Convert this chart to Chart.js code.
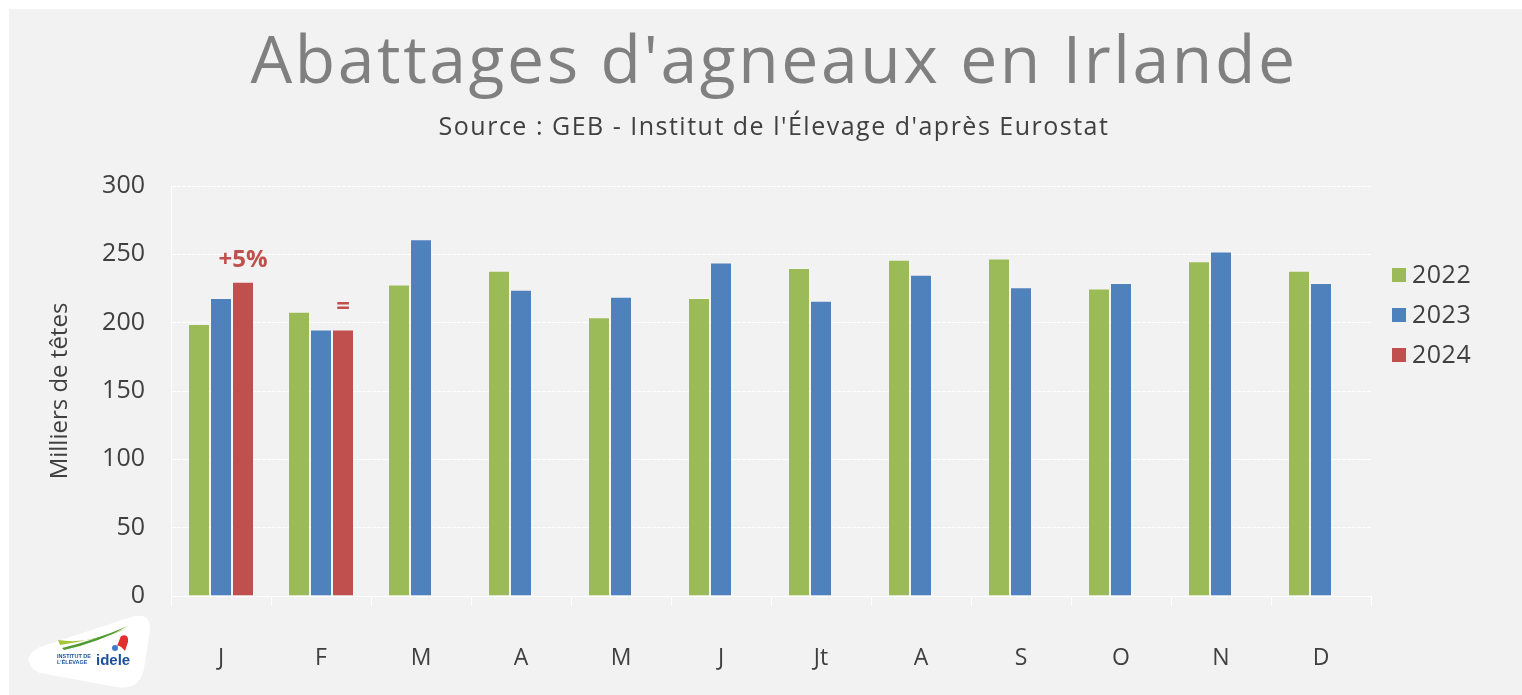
<!DOCTYPE html>
<html>
<head>
<meta charset="utf-8">
<script src="https://cdn.jsdelivr.net/npm/chart.js@4.4.1/dist/chart.umd.min.js"></script>
<style>
  html, body { margin: 0; padding: 0; background: #ffffff; width: 1522px; height: 695px; overflow: hidden; }
  #panel { position: absolute; left: 9px; top: 9px; width: 1513px; height: 686px; background: #f2f2f2; }
  #c { position: absolute; left: 0; top: 0; }
  #logo { position: absolute; left: 18px; top: 600px; }
</style>
</head>
<body>
<div id="panel">
  <canvas id="c" width="1513" height="686"></canvas>
  <svg id="logo" width="140" height="86" viewBox="27 609 140 86" xmlns="http://www.w3.org/2000/svg">
    <path d="M30 664 Q24 655 40 647 L128 618 Q151 610 150 630 L144 668 Q140 691 116 687 L40 673 Q32 670 30 664 Z" fill="#ffffff"/>
    <path d="M58 640 Q90 645 128 628 Q95 640 60 645 Z" fill="#a6c63a"/>
    <path d="M62 648 Q95 640 128 626 Q100 642 64 650 Z" fill="#4f9a32"/>
    <path d="M121 636 Q129 633 128 642 L125 651 Q120 645 117 646 Z" fill="#e2302f"/>
    <circle cx="115" cy="648" r="3" fill="#3d7cc9"/>
    <text x="57" y="658" font-family="Liberation Sans" font-weight="bold" font-size="5.5" fill="#1d4f9c">INSTITUT DE</text>
    <text x="57" y="664" font-family="Liberation Sans" font-weight="bold" font-size="5.5" fill="#1d4f9c">L'ÉLEVAGE</text>
    <text x="96" y="665" font-family="Liberation Sans" font-weight="bold" font-size="15" fill="#1d4f9c">idele</text>
  </svg>
</div>
<script>
const categories = ['J', 'F', 'M', 'A', 'M', 'J', 'Jt', 'A', 'S', 'O', 'N', 'D'];
const seriesLabels = ['2022', '2023', '2024'];
const values2022 = [199, 208, 228, 238, 204, 218, 240, 246, 247, 225, 245, 238];
const values2023 = [218, 195, 261, 224, 219, 244, 216, 235, 226, 229, 252, 229];
const values2024 = [230, 195, null, null, null, null, null, null, null, null, null, null];
const annotations2024 = ['+5%', '=', null, null, null, null, null, null, null, null, null, null];
const yTicks = [0, 50, 100, 150, 200, 250, 300];
const titleText = "Abattages d'agneaux en Irlande";
const subtitleText = "Source : GEB - Institut de l'Élevage d'après Eurostat";
const yAxisTitle = 'Milliers de têtes';

const FONT = "'Open Sans', sans-serif";
const colors = ['#9bbb59', '#4f81bd', '#c0504d'];

const decor = {
  id: 'decor',
  afterDraw(chart) {
    const ctx = chart.ctx;
    ctx.save();
    // title
    ctx.textAlign = 'center';
    ctx.textBaseline = 'alphabetic';
    ctx.fillStyle = '#808080';
    ctx.font = "400 66px " + FONT;
    ctx.letterSpacing = '2.6px';
    ctx.fillText(titleText, 765, 74);
    ctx.fillStyle = '#404040';
    ctx.font = "400 25px " + FONT;
    ctx.letterSpacing = '1.5px';
    ctx.fillText(subtitleText, 765, 126);
    ctx.letterSpacing = '0px';
    // legend
    ctx.textAlign = 'left';
    ctx.textBaseline = 'middle';
    ctx.font = "400 25px " + FONT;
    ctx.letterSpacing = '0.5px';
    chart.data.datasets.forEach((ds, i) => {
      const cy = 266 + i * 40;
      ctx.fillStyle = ds.backgroundColor;
      ctx.fillRect(1383, cy - 7, 14, 14);
      ctx.fillStyle = '#404040';
      ctx.fillText(ds.label, 1403, cy + 1);
    });
    ctx.letterSpacing = '0px';
    // annotations above 2024 bars
    const meta = chart.getDatasetMeta(2);
    ctx.textAlign = 'center';
    ctx.fillStyle = '#c0504d';
    ctx.font = "700 24px " + FONT;
    annotations2024.forEach((txt, i) => {
      if (!txt) return;
      const el = meta.data[i];
      ctx.fillText(txt, el.x, el.y - 22);
    });
    ctx.restore();
  }
};

new Chart(document.getElementById('c'), {
  type: 'bar',
  data: {
    labels: categories,
    datasets: [
      { label: seriesLabels[0], data: values2022, backgroundColor: colors[0] },
      { label: seriesLabels[1], data: values2023, backgroundColor: colors[1] },
      { label: seriesLabels[2], data: values2024, backgroundColor: colors[2] }
    ].map(d => Object.assign(d, { borderColor: 'rgba(255,255,255,0.18)', borderWidth: 1, categoryPercentage: 0.66, barPercentage: 1.0 }))
  },
  options: {
    responsive: false,
    devicePixelRatio: 1,
    animation: false,
    layout: { padding: { left: 0, right: 151, top: 177, bottom: 0 } },
    plugins: {
      legend: { display: false },
      title: { display: false },
      tooltip: { enabled: false }
    },
    scales: {
      x: {
        grid: { display: true, drawOnChartArea: false, drawTicks: true, tickLength: 10, color: '#ffffff', lineWidth: 1, offset: true },
        border: { display: true, color: '#ffffff', width: 1 },
        ticks: { color: '#404040', font: { family: FONT, size: 23 }, padding: 39, maxRotation: 0 },
        afterFit(s) { s.height = 99; }
      },
      y: {
        min: 0, max: 300,
        afterBuildTicks(s) { s.ticks = yTicks.map(v => ({ value: v })); },
        grid: { color: '#ffffff', lineWidth: 1, drawTicks: false },
        border: { display: true, color: '#ffffff', width: 1, dash: [4, 1] },
        ticks: { color: '#404040', font: { family: FONT, size: 25 }, padding: 26 },
        title: { display: true, text: yAxisTitle, color: '#404040', font: { family: FONT, size: 24 }, padding: { top: 37, bottom: 0 } },
        afterFit(s) { s.width = 162; }
      }
    }
  },
  plugins: [decor]
});
</script>
</body>
</html>
